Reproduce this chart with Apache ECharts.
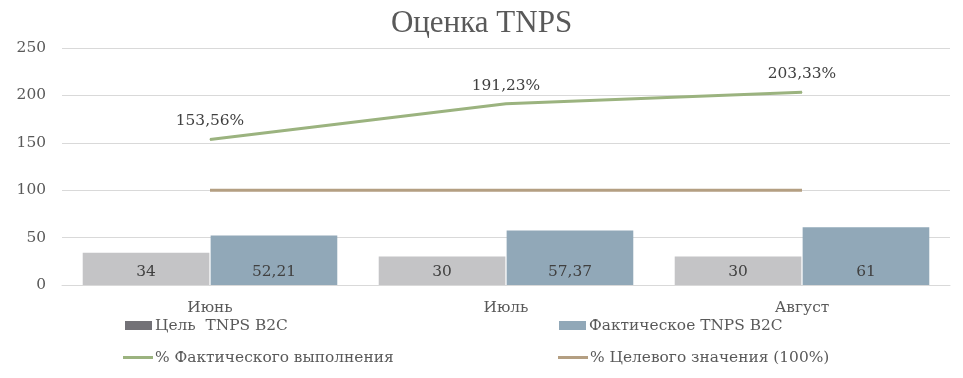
<!DOCTYPE html>
<html>
<head>
<meta charset="utf-8">
<script src="https://cdn.jsdelivr.net/npm/echarts@6/dist/echarts.min.js"></script>
<style>html,body{margin:0;padding:0;background:#fff;}#c{width:963px;height:378px;}</style>
</head>
<body>
<div id="c"></div>
<script>
var categories = ['Июнь', 'Июль', 'Август'];
var targetTNPS = [34, 30, 30];
var actualTNPS = [52.21, 57.37, 61];
var actualPct = [153.56, 191.23, 203.33];
var targetPct = [100, 100, 100];
var yTicks = [0, 50, 100, 150, 200, 250];

var FONT = 'DejaVu Serif';
var FS = 15.4;
function fmt(v) { return String(v).replace('.', ','); }
var legText = { fontFamily: FONT, fontSize: FS, color: '#595959' };

var chart = echarts.init(document.getElementById('c'));
chart.setOption({
  animation: false,
  textStyle: { fontFamily: FONT },
  title: {
    text: 'Оценка TNPS', left: 'center', top: 3,
    textStyle: { fontFamily: 'Liberation Serif', fontSize: 31, fontWeight: 'normal', color: '#595959' }
  },
  grid: { left: 62, right: 13, top: 48, bottom: 93 },
  legend: [
    { left: 120, top: 313, itemWidth: 27, itemHeight: 9, itemGap: 0, icon: 'rect',
      textStyle: Object.assign({ padding: [0, 0, 0, -2] }, legText),
      data: [{ name: 'Цель  TNPS B2C', itemStyle: { color: '#737277' } }] },
    { left: 554, top: 313, itemWidth: 27, itemHeight: 9, icon: 'rect',
      textStyle: Object.assign({ padding: [0, 0, 0, -2] }, legText),
      data: [{ name: 'Фактическое TNPS B2C' }] },
    { left: 118, top: 345, itemWidth: 30, itemHeight: 3,
      textStyle: Object.assign({ padding: [0, 0, 0, -3] }, legText),
      data: [{ name: '% Фактического выполнения', icon: 'rect' }] },
    { left: 553, top: 345, itemWidth: 30, itemHeight: 3,
      textStyle: Object.assign({ padding: [0, 0, 0, -3] }, legText),
      data: [{ name: '% Целевого значения (100%)', icon: 'rect' }] }
  ],
  xAxis: {
    type: 'category', data: categories,
    axisLine: { lineStyle: { color: '#d9d9d9' } },
    axisTick: { show: false },
    axisLabel: { fontFamily: FONT, fontSize: FS, color: '#595959', margin: 15 }
  },
  yAxis: {
    type: 'value', min: yTicks[0], max: yTicks[yTicks.length - 1], interval: 50,
    axisLine: { show: false }, axisTick: { show: false },
    axisLabel: { fontFamily: FONT, fontSize: FS, color: '#595959', margin: 16 },
    splitLine: { lineStyle: { color: '#d9d9d9' } }
  },
  series: [
    { name: 'Цель  TNPS B2C', type: 'bar', data: targetTNPS, barGap: '1%', barCategoryGap: '14%',
      itemStyle: { color: '#c4c4c6' },
      label: { show: true, position: 'insideBottom', distance: 6, fontFamily: FONT, fontSize: FS, color: '#404040', formatter: function (p) { return fmt(p.value); } } },
    { name: 'Фактическое TNPS B2C', type: 'bar', data: actualTNPS,
      itemStyle: { color: '#91a8b8' },
      label: { show: true, position: 'insideBottom', distance: 6, fontFamily: FONT, fontSize: FS, color: '#404040', formatter: function (p) { return fmt(p.value); } } },
    { name: '% Фактического выполнения', type: 'line', data: actualPct, symbol: 'circle', symbolSize: 1, showSymbol: true,
      lineStyle: { color: '#9bb37f', width: 3 }, itemStyle: { color: '#9bb37f' },
      label: { show: true, position: 'top', distance: 10, fontFamily: FONT, fontSize: FS, color: '#404040', formatter: function (p) { return fmt(p.value) + '%'; } } },
    { name: '% Целевого значения (100%)', type: 'line', data: targetPct, symbol: 'none',
      lineStyle: { color: '#b49f82', width: 3 }, itemStyle: { color: '#b49f82' } }
  ]
});
</script>
</body>
</html>
